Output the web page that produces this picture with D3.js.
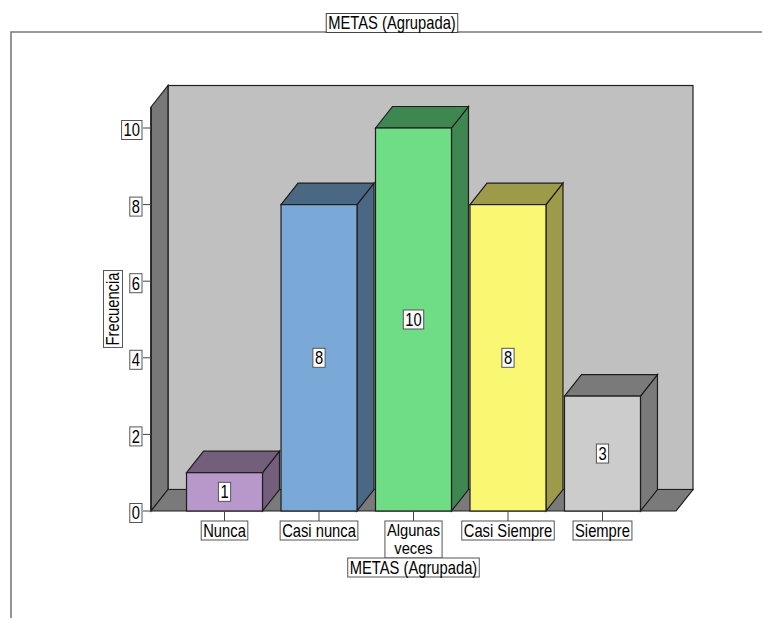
<!DOCTYPE html>
<html>
<head>
<meta charset="utf-8">
<script src="https://cdn.jsdelivr.net/npm/d3@7"></script>
<style>
  html, body { margin: 0; padding: 0; background: #fff; }
  svg { display: block; }
  text { font-family: "Liberation Sans", Arial, sans-serif; font-size: 18px; fill: #000; }
</style>
</head>
<body>
<svg id="chart" width="762" height="618"></svg>
<script>
// Frequency table for METAS (Agrupada)
const categories = ["Nunca", "Casi nunca", "Algunas veces", "Casi Siempre", "Siempre"];
const frecuencias = [1, 8, 10, 8, 3];
const yTicks = [0, 2, 4, 6, 8, 10];
const frontColors = ["#b898ca", "#7ba9d7", "#6fdd85", "#faf773", "#cccccc"];
const shadeColors = ["#735e7b", "#4a6884", "#3f8751", "#9d9b4a", "#7a7a7a"];
const chartTitle = "METAS (Agrupada)";
const xTitle = "METAS (Agrupada)";
const yTitle = "Frecuencia";

const svg = d3.select("#chart");

// condensed lettering: regular face squeezed horizontally
const SQ = 0.82;

// 3D depth offset of the back plane
const DX = 17, DY = -21.5;
const left = 151, right = 676, bottom = 511;

const x = d3.scaleBand().domain(categories).range([left, right])
  .paddingInner(0.196).paddingOuter(0.376);
const y = d3.scaleLinear().domain([0, 10]).range([bottom, 128]);
const axisTop = y(10) - 21;

const edge = "#1e1e1e";

// outer frame
svg.append("path")
  .attr("d", `M11,618 L11,32 L762,32`)
  .attr("fill", "none").attr("stroke", "#7a7a7a").attr("stroke-width", 1.6);

// squeezed text at (tx, ty); returns [selection, rendered width]
function sqText(g, tx, ty, str, anchor, size, sq) {
  const s = sq || SQ;
  const t = g.append("text")
    .attr("transform", `translate(${tx},${ty}) scale(${s},1)`)
    .attr("text-anchor", anchor || "middle")
    .text(str);
  if (size) t.style("font-size", size + "px");
  return [t, t.node().getComputedTextLength() * s];
}

// text inside a white bordered box; several lines use a slightly smaller face
function boxedText(g, cx, cy, lines, opts = {}) {
  const multi = lines.length > 1;
  const lh = 18;
  const size = multi ? 16 : 18;
  const sq = multi ? 0.92 : SQ;
  const grp = g.append("g");
  const rect = grp.append("rect");
  const widths = lines.map((ln, i) =>
    sqText(grp, cx, cy + (multi ? 5.8 : 6.3) + (i - (lines.length - 1) / 2) * lh, ln, "middle", size, sq)[1]);
  const w = d3.max(widths) + 4;
  const h = 19 + (lines.length - 1) * lh;
  rect.attr("x", cx - w / 2).attr("y", cy - h / 2)
    .attr("width", w).attr("height", h)
    .attr("fill", "#fff").attr("stroke", opts.stroke || "#555").attr("stroke-width", 1);
  if (opts.rotate) grp.attr("transform", `rotate(-90,${cx},${cy})`);
  return grp;
}

const plot = svg.append("g");

// back wall
plot.append("rect")
  .attr("x", left + DX).attr("y", axisTop + DY)
  .attr("width", right - left).attr("height", bottom - axisTop)
  .attr("fill", "#c0c0c0").attr("stroke", edge).attr("stroke-width", 1.2);

// left side wall
plot.append("path")
  .attr("d", `M${left},${axisTop} L${left + DX},${axisTop + DY} L${left + DX},${bottom + DY} L${left},${bottom} Z`)
  .attr("fill", "#787878").attr("stroke", edge).attr("stroke-width", 1.2);

// floor
plot.append("path")
  .attr("d", `M${left},${bottom} L${left + DX},${bottom + DY} L${right + DX},${bottom + DY} L${right},${bottom} Z`)
  .attr("fill", "#7a7a7a").attr("stroke", edge).attr("stroke-width", 1.2);

// y axis line and ticks
plot.append("line").attr("x1", left).attr("x2", left).attr("y1", axisTop).attr("y2", bottom)
  .attr("stroke", edge).attr("stroke-width", 1.5);
const yAxisG = svg.append("g");
yTicks.forEach(t => {
  yAxisG.append("line").attr("x1", left - 8).attr("x2", left)
    .attr("y1", y(t)).attr("y2", y(t)).attr("stroke", "#444").attr("stroke-width", 1);
  const g = yAxisG.append("g");
  const w = sqText(g, left - 11, y(t) + 2 + 6.3, String(t), "end")[1] + 4;
  g.insert("rect", "text").attr("x", left - 9 - w).attr("y", y(t) + 2 - 9.5)
    .attr("width", w).attr("height", 19)
    .attr("fill", "#fff").attr("stroke", "#555").attr("stroke-width", 1);
});

// bars (side, top, front faces)
const bars = plot.selectAll("g.bar")
  .data(categories.map((c, i) => ({ c, v: frecuencias[i], i })))
  .join("g").attr("class", "bar");

bars.each(function (d) {
  const g = d3.select(this);
  const x0 = x(d.c), x1 = x0 + x.bandwidth();
  const yt = y(d.v), yb = y(0);
  g.append("path")
    .attr("d", `M${x1},${yb} L${x1},${yt} L${x1 + DX},${yt + DY} L${x1 + DX},${yb + DY} Z`)
    .attr("fill", shadeColors[d.i]).attr("stroke", edge).attr("stroke-width", 1.2);
  g.append("path")
    .attr("d", `M${x0},${yt} L${x0 + DX},${yt + DY} L${x1 + DX},${yt + DY} L${x1},${yt} Z`)
    .attr("fill", shadeColors[d.i]).attr("stroke", edge).attr("stroke-width", 1.2);
  g.append("rect")
    .attr("x", x0).attr("y", yt).attr("width", x1 - x0).attr("height", yb - yt)
    .attr("fill", frontColors[d.i]).attr("stroke", edge).attr("stroke-width", 1.2);
  // value label
  boxedText(g, (x0 + x1) / 2, (yt + yb) / 2, [String(d.v)]);
});

// x axis ticks and category labels
const xAxisG = svg.append("g");
categories.forEach(c => {
  const cx = x(c) + x.bandwidth() / 2;
  xAxisG.append("line").attr("x1", cx).attr("x2", cx)
    .attr("y1", bottom).attr("y2", bottom + 10).attr("stroke", "#444").attr("stroke-width", 1);
  // wrap words when the label is wider than one category step
  const [probe, pw] = sqText(xAxisG, 0, 0, c);
  probe.remove();
  const lines = pw <= x.step() ? [c] : c.split(" ");
  const h = 19 + (lines.length - 1) * 18;
  boxedText(xAxisG, cx, bottom + 10 + h / 2, lines);
});

// axis titles and chart title
boxedText(svg, (left + right) / 2, 567.5, [xTitle]);
boxedText(svg, 113, 309, [yTitle], { rotate: true });
boxedText(svg, 392, 23, [chartTitle], { stroke: "#444" });
</script>
</body>
</html>
